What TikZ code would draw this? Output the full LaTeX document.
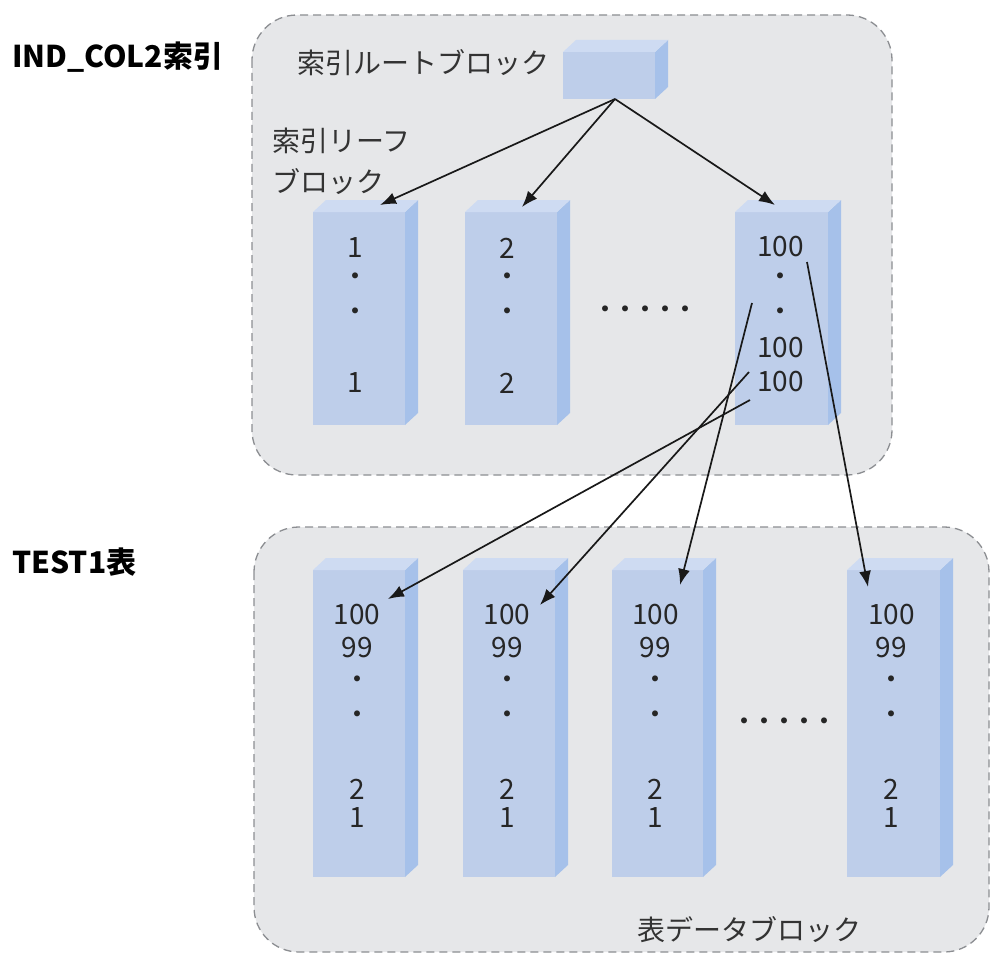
\documentclass[tikz,border=0pt]{standalone}
\usepackage{fontspec}
\setmainfont{Noto Sans CJK JP}
\usetikzlibrary{arrows.meta,calc}
\definecolor{panelgray}{RGB}{230,231,233}
\definecolor{dashgray}{RGB}{140,142,146}
\definecolor{frontblue}{RGB}{190,206,234}
\definecolor{sideblue}{RGB}{166,193,234}
\definecolor{topblue}{RGB}{206,219,242}
\tikzset{
 panel/.style={draw=dashgray, fill=panelgray, dash pattern=on 8pt off 5pt, line width=1.3pt, rounded corners=45pt},
 front/.style={fill=frontblue, inner sep=0pt, outer sep=0pt, anchor=north west},
 celltxt/.style={font=\fontsize{28}{30}\selectfont, inner sep=0pt, text=black!85},
 lbl/.style={font=\fontsize{28}{40}\selectfont, inner sep=0pt, text=black!80, anchor=west},
 head/.style={font=\fontsize{30}{34}\selectfont\bfseries, inner sep=0pt, anchor=west},
 link/.style={draw=black!90, line width=1.7pt, -{Latex[length=16pt,width=12pt]}},
}
\newcommand\cube[5]{%
 \node[front, minimum width=#4pt, minimum height=#5pt] (#1) at (#2,#3) {};
 \fill[sideblue] (#1.north east) -- ++(13,-12) -- ($(#1.south east)+(13,-12)$) -- (#1.south east) -- cycle;
 \fill[topblue] (#1.north west) -- ++(13,-12) -- ($(#1.north east)+(13,-12)$) -- (#1.north east) -- cycle;
}
\newcommand\dotrow{・\kern-8pt・\kern-8pt・\kern-8pt・\kern-8pt・}
\begin{document}
\begin{tikzpicture}[x=1pt,y=-1pt]
\useasboundingbox (0,0) rectangle (991,955);
\fill[white] (0,0) rectangle (991,955);
% panels
\draw[panel] (252,15) rectangle (892,475);
\draw[panel] (254,527) rectangle (989,952);
% headings
\node[head] (hidx) at (12,57) {IND\_COL2索引};
\node[head] (htbl) at (12,562) {TEST1表};
% root block
\cube{root}{563}{52}{92}{47}
\node[lbl, anchor=east] (rootlbl) at (550,63) {索引ルートブロック};
\node[lbl] (leafA) at (272,141) {索引リーフ};
\node[lbl] (leafB) at (272,182) {ブロック};
% leaf blocks
\cube{l1}{313}{212}{92}{213}
\cube{l2}{465}{212}{92}{213}
\cube{l3}{735}{212}{93}{213}
\node[celltxt] (l1a) at ($(l1.north)+(-4,36)$) {1};
\node[celltxt] (l1b) at ($(l1.north)+(-4,68)$) {・};
\node[celltxt] (l1c) at ($(l1.north)+(-4,103)$) {・};
\node[celltxt] (l1d) at ($(l1.north)+(-4,171)$) {1};
\node[celltxt] (l2a) at ($(l2.north)+(-4,36)$) {2};
\node[celltxt] (l2b) at ($(l2.north)+(-4,68)$) {・};
\node[celltxt] (l2c) at ($(l2.north)+(-4,103)$) {・};
\node[celltxt] (l2d) at ($(l2.north)+(-4,171)$) {2};
\node[celltxt] (l3a) at ($(l3.north)+(-1,35)$) {100};
\node[celltxt] (l3b) at ($(l3.north)+(-1,68)$) {・};
\node[celltxt] (l3c) at ($(l3.north)+(-1,103)$) {・};
\node[celltxt] (l3d) at ($(l3.north)+(-1,136)$) {100};
\node[celltxt] (l3e) at ($(l3.north)+(-1,170)$) {100};
\node[celltxt] (dotsA) at (645,313) {\dotrow};
% data blocks
\cube{b1}{313}{570}{92}{307}
\cube{b2}{463}{570}{92}{307}
\cube{b3}{612}{570}{91}{307}
\cube{b4}{847}{570}{93}{307}
\foreach \b in {b1,b2,b3,b4}{
 \node[celltxt] (\b r1) at ($(\b.north)+(-2,45)$) {100};
 \node[celltxt] (\b r2) at ($(\b.north)+(-2,78)$) {99};
 \node[celltxt] (\b r3) at ($(\b.north)+(-2,113)$) {・};
 \node[celltxt] (\b r4) at ($(\b.north)+(-2,148)$) {・};
 \node[celltxt] (\b r5) at ($(\b.north)+(-2,219)$) {2};
 \node[celltxt] (\b r6) at ($(\b.north)+(-2,248)$) {1};
}
\node[celltxt] (dotsB) at (784,725) {\dotrow};
\node[lbl] (datalbl) at (637,930) {表データブロック};
% connectors
\draw[link] ($(root.south)+(6,0)$) -- ($(l1.north)+(21,-7)$);
\draw[link] ($(root.south)+(6,0)$) -- ($(l2.north)+(11,-5)$);
\draw[link] ($(root.south)+(6,0)$) -- ($(l3.north)+(-6.5,-7)$);
\draw[link] ($(l3.center)+(25.5,-56.5)$) -- ($(b4.north)+(-25.5,17)$);
\draw[link] ($(l3.center)+(-29.5,-15.5)$) -- ($(b3.north)+(22.5,15)$);
\draw[link] ($(l3.center)+(-32.5,53.5)$) -- ($(b2.north)+(31,35)$);
\draw[link] ($(l3.center)+(-31.5,81.5)$) -- ($(b1.north)+(29,29)$);
\end{tikzpicture}
\end{document}
